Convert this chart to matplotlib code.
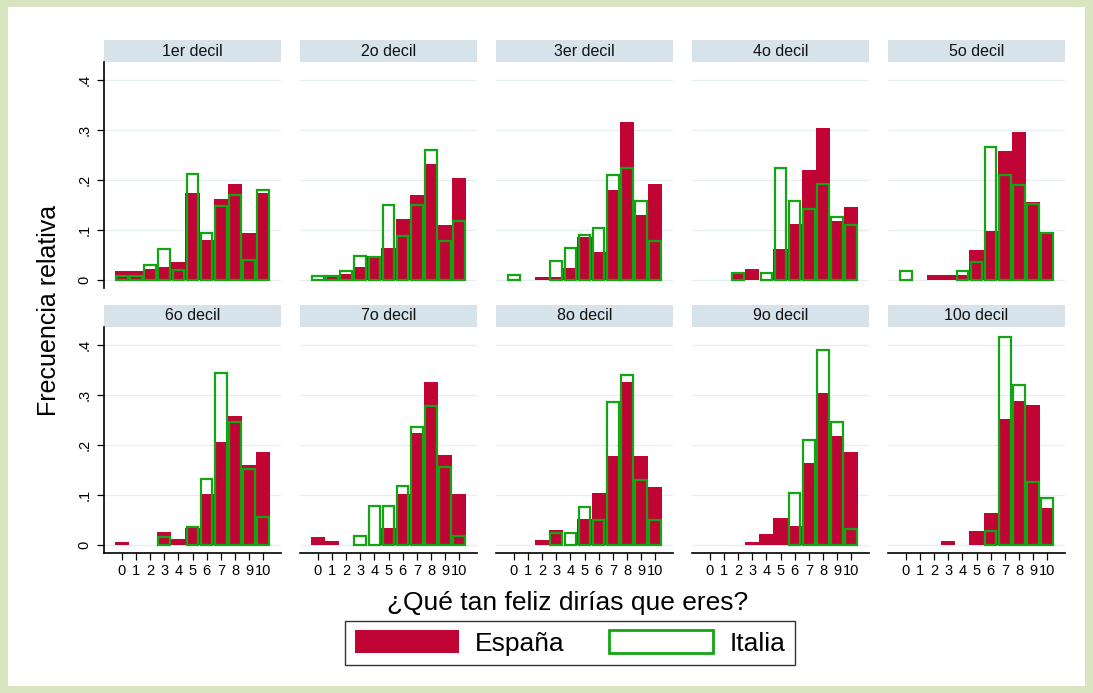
import matplotlib
matplotlib.use("Agg")
import matplotlib.pyplot as plt
from matplotlib.patches import Rectangle, Patch
import numpy as np

plt.rcParams['font.family'] = ['Liberation Sans', 'DejaVu Sans']

# Happiness score categories (0-10)
scores = list(range(11))
decile_labels = ['1er decil', '2o decil', '3er decil', '4o decil', '5o decil',
                 '6o decil', '7o decil', '8o decil', '9o decil', '10o decil']
ytick_values = [0, 0.1, 0.2, 0.3, 0.4]
ytick_labels = ['0', '.1', '.2', '.3', '.4']

# Relative frequency by income decile - Spain
esp_1 = [0.018, 0.018, 0.022, 0.026, 0.037, 0.175, 0.080, 0.162, 0.192, 0.094, 0.175]
esp_2 = [0.003, 0.006, 0.013, 0.026, 0.048, 0.064, 0.122, 0.171, 0.233, 0.110, 0.205]
esp_3 = [0, 0, 0.006, 0.006, 0.024, 0.087, 0.056, 0.180, 0.316, 0.130, 0.192]
esp_4 = [0, 0, 0.013, 0.022, 0, 0.062, 0.113, 0.220, 0.305, 0.118, 0.147]
esp_5 = [0, 0, 0.010, 0.010, 0.010, 0.060, 0.099, 0.258, 0.296, 0.157, 0.097]
esp_6 = [0.006, 0, 0, 0.026, 0.012, 0.035, 0.102, 0.207, 0.258, 0.161, 0.187]
esp_7 = [0.017, 0.008, 0, 0, 0, 0.034, 0.103, 0.225, 0.327, 0.180, 0.103]
esp_8 = [0, 0, 0.010, 0.031, 0, 0.052, 0.105, 0.178, 0.326, 0.178, 0.116]
esp_9 = [0, 0, 0, 0.007, 0.023, 0.055, 0.039, 0.164, 0.304, 0.218, 0.187]
esp_10 = [0, 0, 0, 0.009, 0, 0.028, 0.065, 0.252, 0.288, 0.280, 0.074]

# Relative frequency by income decile - Italy
ita_1 = [0.009, 0.009, 0.030, 0.062, 0.020, 0.213, 0.095, 0.149, 0.171, 0.041, 0.180]
ita_2 = [0.009, 0.008, 0.019, 0.049, 0.047, 0.150, 0.089, 0.150, 0.261, 0.079, 0.119]
ita_3 = [0.011, 0, 0, 0.039, 0.065, 0.091, 0.104, 0.211, 0.225, 0.158, 0.079]
ita_4 = [0, 0, 0.015, 0, 0.015, 0.225, 0.159, 0.143, 0.192, 0.127, 0.111]
ita_5 = [0.018, 0, 0, 0, 0.018, 0.037, 0.267, 0.210, 0.191, 0.152, 0.095]
ita_6 = [0, 0, 0, 0.017, 0, 0.037, 0.133, 0.344, 0.247, 0.152, 0.056]
ita_7 = [0, 0, 0, 0.018, 0.078, 0.078, 0.118, 0.237, 0.278, 0.157, 0.018]
ita_8 = [0, 0, 0, 0.024, 0.024, 0.077, 0.050, 0.287, 0.340, 0.130, 0.051]
ita_9 = [0, 0, 0, 0, 0, 0, 0.104, 0.211, 0.391, 0.247, 0.033]
ita_10 = [0, 0, 0, 0, 0, 0, 0.029, 0.417, 0.320, 0.127, 0.095]

espana = [esp_1, esp_2, esp_3, esp_4, esp_5, esp_6, esp_7, esp_8, esp_9, esp_10]
italia = [ita_1, ita_2, ita_3, ita_4, ita_5, ita_6, ita_7, ita_8, ita_9, ita_10]

RED = '#c00535'
GREEN = '#14a514'
STRIP = '#d7e3ea'
GRID = '#e5eef1'
FRAME = '#d9e4c1'

W, H = 1093, 693
fig = plt.figure(figsize=(W / 100, H / 100), dpi=100)
fig.patch.set_facecolor(FRAME)
fig.add_artist(Rectangle((8 / W, 7 / H), (W - 16) / W, (H - 14) / H,
                         transform=fig.transFigure, facecolor='white',
                         edgecolor='none', zorder=-10))

lefts = [104, 300, 496, 692, 888]
pw, ph = 177, 226
tops = [62, 327]
strip_h = 22

for i, label in enumerate(decile_labels):
    row, col = divmod(i, 5)
    x0 = lefts[col]
    top = tops[row]
    ax = fig.add_axes([x0 / W, (H - top - ph) / H, pw / W, ph / H])
    ax.set_facecolor('none')
    ax.set_xlim(-1.25, 11.25)
    ax.set_ylim(-0.016, 0.436)
    ax.set_axisbelow(True)

    e = np.array(espana[i], dtype=float)
    it = np.array(italia[i], dtype=float)
    x = np.array(scores)
    me = e > 0
    mi = it > 0
    ax.bar(x[me], e[me], width=1.0, color=RED, edgecolor='none', zorder=2)
    ax.bar(x[mi], it[mi], width=0.82, facecolor='none', edgecolor=GREEN,
           linewidth=1.6, zorder=3)

    ax.set_yticks(ytick_values)
    ax.yaxis.grid(True, color=GRID, linewidth=0.9)
    ax.xaxis.grid(False)

    for s in ['top', 'right']:
        ax.spines[s].set_visible(False)
    ax.spines['left'].set_visible(col == 0)
    ax.spines['bottom'].set_visible(row == 1)
    for s in ['left', 'bottom']:
        ax.spines[s].set_linewidth(1.2)
        ax.spines[s].set_color('black')

    if col == 0:
        ax.set_yticklabels(ytick_labels, rotation=90, va='center', fontsize=10.5)
        ax.tick_params(axis='y', length=5.2, width=0.9, pad=4, direction='out')
    else:
        ax.tick_params(axis='y', length=0, labelleft=False)

    if row == 1:
        ax.set_xticks(scores)
        ax.set_xticklabels([str(s) for s in scores], fontsize=10.5)
        ax.tick_params(axis='x', length=5.2, width=0.9, pad=3, direction='out')
    else:
        ax.set_xticks([])

    # facet header
    sh = strip_h / ph
    ax.add_patch(Rectangle((0, 1), 1, sh, transform=ax.transAxes,
                           facecolor=STRIP, edgecolor='none', clip_on=False))
    ax.text(0.5, 1 + sh / 2, label, transform=ax.transAxes, ha='center',
            va='center', fontsize=11.5, color='#111111')

fig.text(49 / W, 1 - 310 / H, 'Frecuencia relativa', rotation=90,
         ha='center', va='center', fontsize=18)
fig.text(568 / W, 1 - 603 / H, '¿Qué tan feliz dirías que eres?',
         ha='center', va='center', fontsize=19)

handles = [Patch(facecolor=RED, edgecolor='none'),
           Patch(facecolor='white', edgecolor=GREEN, linewidth=2)]
leg = fig.legend(handles, ['España', 'Italia'], loc='center',
                 bbox_to_anchor=(570 / W, 1 - 643 / H), ncol=2,
                 frameon=True, fancybox=False, edgecolor='black',
                 fontsize=19, handlelength=3.94, handleheight=0.91,
                 handletextpad=0.63, columnspacing=1.67, borderpad=0.35)
leg.get_frame().set_linewidth(1.0)

fig.savefig('out.png', dpi=100, facecolor=fig.get_facecolor())
